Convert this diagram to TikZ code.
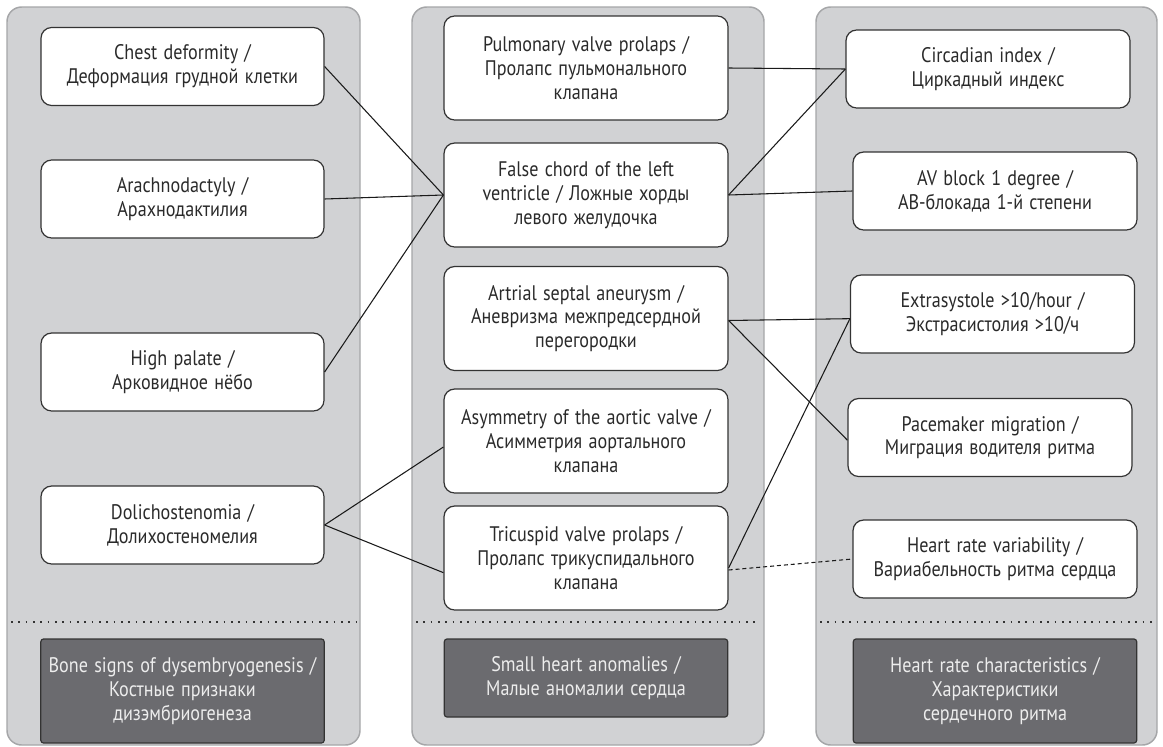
\documentclass[tikz,border=0pt]{standalone}
\usepackage{fontspec}
\setmainfont[FakeStretch=0.86,WordSpace=1.3]{PT Sans}
\usetikzlibrary{calc}
\definecolor{panelfill}{HTML}{D1D2D4}
\definecolor{paneldraw}{HTML}{A5A6A8}
\definecolor{darkfill}{HTML}{6B6B6F}
\definecolor{darkdraw}{HTML}{333333}
\definecolor{txt}{HTML}{2A2A2A}
\definecolor{ltxt}{HTML}{EDEDED}
\definecolor{conn}{HTML}{1A1A1A}
\tikzset{
  panel/.style={fill=panelfill,draw=paneldraw,line width=1.1pt,rounded corners=11pt},
  sep/.style={draw=darkdraw,line width=1.7pt,dash pattern=on 1.3pt off 4.2pt},
  box/.style={draw=darkdraw,fill=white,line width=0.9pt,rounded corners=8pt,
    align=center,inner sep=0pt,text=txt,
    font=\fontsize{15.8}{17.8}\selectfont},
  boxa/.style={box,minimum width=212.25pt,minimum height=58.5pt},
  boxb/.style={box,minimum width=213pt,minimum height=78pt},
  boxc/.style={box,minimum width=213pt,minimum height=58.5pt},
  cat/.style={draw=darkdraw,fill=darkfill,line width=0.9pt,rounded corners=2pt,
    align=center,inner sep=0pt,text=ltxt,minimum width=212.5pt,
    font=\fontsize{15.8}{17.8}\selectfont},
  link/.style={draw=conn,line width=0.8pt},
  dlink/.style={draw=conn,line width=0.8pt,dash pattern=on 3pt off 2.2pt}
}
\begin{document}
\begin{tikzpicture}[x=0.75pt,y=-0.75pt]
\useasboundingbox (0,0) rectangle (1163,746);
% panels
\path[panel] (7,7) rectangle (360,745);
\path[panel] (412,7) rectangle (764,745);
\path[panel] (816,7) rectangle (1157,745);
% separators
\draw[sep] (11,622) -- (356,622);
\draw[sep] (416,622) -- (760,622);
\draw[sep] (820,622) -- (1154,622);
% column 1
\node[boxa] (chest) at (182.5,66.5) {Chest deformity /\\Деформация грудной клетки};
\node[boxa] (arach) at (182.5,199) {Arachnodactyly /\\Арахнодактилия};
\node[boxa] (high) at (182.5,372) {High palate /\\Арковидное нёбо};
\node[boxa] (dol) at (182.5,525) {Dolichostenomia /\\Долихостеномелия};
% column 2
\node[boxb] (pulm) at (586,68) {Pulmonary valve prolaps /\\Пролапс пульмонального\\клапана};
\node[boxb] (fc) at (586,195) {False chord of the left\\ventricle / Ложные хорды\\левого желудочка};
\node[boxb] (art) at (586,318.5) {Artrial septal aneurysm /\\Аневризма межпредсердной\\перегородки};
\node[boxb] (asym) at (586,441) {Asymmetry of the aortic valve /\\Асимметрия аортального\\клапана};
\node[boxb] (tric) at (586,558) {Tricuspid valve prolaps /\\Пролапс трикуспидального\\клапана};
% column 3
\node[boxc] (circ) at (988,69) {Circadian index /\\Циркадный индекс};
\node[boxc] (av) at (995,191) {AV block 1 degree /\\АВ-блокада 1-й степени};
\node[boxc] (extra) at (992.5,314) {Extrasystole >10/hour /\\Экстрасистолия >10/ч};
\node[boxc] (pace) at (990,437.5) {Pacemaker migration /\\Миграция водителя ритма};
\node[boxc] (hrv) at (995,559) {Heart rate variability /\\Вариабельность ритма сердца};
% category boxes
\node[cat,minimum height=78pt] (c1) at (182.5,691) {Bone signs of dysembryogenesis /\\Костные признаки\\дизэмбриогенеза};
\node[cat,minimum height=58.5pt] (c2) at (586,678) {Small heart anomalies /\\Малые аномалии сердца};
\node[cat,minimum height=78pt] (c3) at (995,691) {Heart rate characteristics /\\Характеристики\\сердечного ритма};
% connectors
\draw[link] (chest.east) -- (fc.west);
\draw[link] (arach.east) -- (fc.west);
\draw[link] (high.east) -- (fc.west);
\draw[link] (dol.east) -- ([yshift=-4.5pt]asym.west);
\draw[link] (dol.east) -- ([yshift=-11pt]tric.west);
\draw[link] (pulm.east) -- (circ.west);
\draw[link] (fc.east) -- (circ.west);
\draw[link] (fc.east) -- (av.west);
\draw[link] ([yshift=-1.5pt]art.east) -- ([yshift=-3.5pt]extra.west);
\draw[link] ([yshift=-1.5pt]art.east) -- ([yshift=-2pt]pace.west);
\draw[link] ([yshift=-7.5pt]tric.east) -- ([yshift=-3.5pt]extra.west);
\draw[dlink] ([yshift=-9pt]tric.east) -- (hrv.west);
\end{tikzpicture}
\end{document}
